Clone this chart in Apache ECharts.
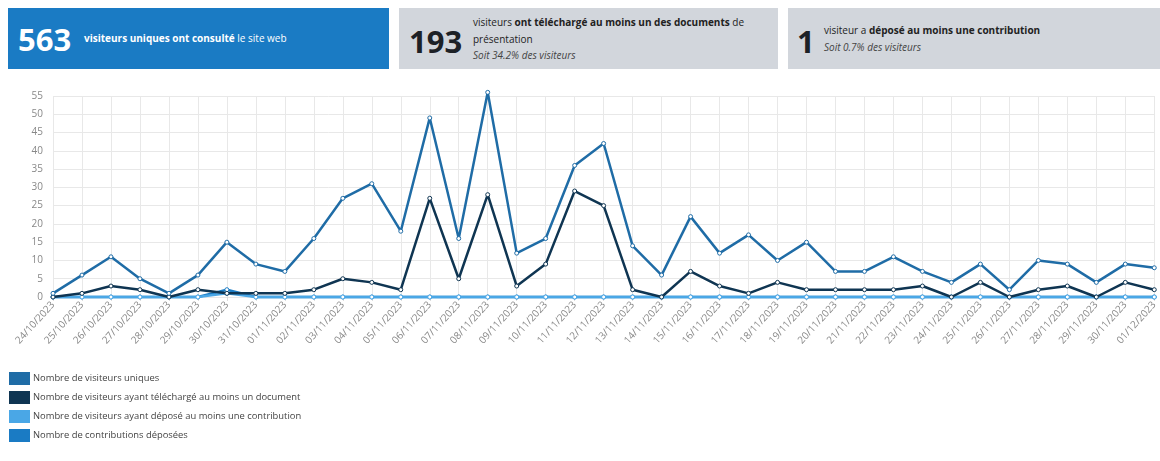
<!DOCTYPE html>
<html>
<head>
<meta charset="utf-8">
<script src="https://cdn.jsdelivr.net/npm/echarts@6/dist/echarts.min.js"></script>
<style>
  html, body { margin: 0; padding: 0; background: #fff; font-family: "Open Sans", "Noto Sans", sans-serif; }
  #wrap { position: relative; width: 1160px; height: 461px; overflow: hidden; }
  #chart { position: absolute; left: 0; top: 0; width: 1160px; height: 461px; }
  .box { position: absolute; top: 8px; height: 61px; box-sizing: border-box; z-index: 2; }
  .big { position: absolute; font-weight: 700; font-size: 31px; line-height: 31px; }
  .txt { position: absolute; font-size: 10px; line-height: 16.5px; }
  .b1 { left: 8px; width: 381px; background: #1a7bc4; color: #fff; }
  .b2 { left: 399px; width: 379px; background: #d2d6dc; color: #222; }
  .b3 { left: 788px; width: 372px; background: #d2d6dc; color: #222; }
  .it { font-style: italic; color: #444; }
</style>
</head>
<body>
<div id="wrap">
  <div id="chart"></div>
  <div class="box b1">
    <div class="big" style="left:10px; top:16px;">563</div>
    <div class="txt" style="left:76px; top:22px;"><b>visiteurs uniques ont consulté</b> le site web</div>
  </div>
  <div class="box b2">
    <div class="big" style="left:10px; top:18px; color:#1d2126;">193</div>
    <div class="txt" style="left:74px; top:6px; width:290px;">visiteurs <b>ont téléchargé au moins un des documents</b> de présentation<br><span class="it">Soit 34.2% des visiteurs</span></div>
  </div>
  <div class="box b3">
    <div class="big" style="left:9px; top:18px; color:#1d2126;">1</div>
    <div class="txt" style="left:36px; top:14px;">visiteur a <b>déposé au moins une contribution</b><br><span class="it">Soit 0.7% des visiteurs</span></div>
  </div>
</div>
<script>
const categories = [
  "24/10/2023","25/10/2023","26/10/2023","27/10/2023","28/10/2023","29/10/2023","30/10/2023","31/10/2023",
  "01/11/2023","02/11/2023","03/11/2023","04/11/2023","05/11/2023","06/11/2023","07/11/2023","08/11/2023",
  "09/11/2023","10/11/2023","11/11/2023","12/11/2023","13/11/2023","14/11/2023","15/11/2023","16/11/2023",
  "17/11/2023","18/11/2023","19/11/2023","20/11/2023","21/11/2023","22/11/2023","23/11/2023","24/11/2023",
  "25/11/2023","26/11/2023","27/11/2023","28/11/2023","29/11/2023","30/11/2023","01/12/2023"
];
const seriesNames = [
  "Nombre de visiteurs uniques",
  "Nombre de visiteurs ayant téléchargé au moins un document",
  "Nombre de visiteurs ayant déposé au moins une contribution",
  "Nombre de contributions déposées"
];
const uniqueVisitors = [1,6,11,5,1,6,15,9,7,16,27,31,18,49,16,56,12,16,36,42,14,6,22,12,17,10,15,7,7,11,7,4,9,2,10,9,4,9,8];
const downloaders   = [0,1,3,2,0,2,1,1,1,2,5,4,2,27,5,28,3,9,29,25,2,0,7,3,1,4,2,2,2,2,3,0,4,0,2,3,0,4,2];
const contributors  = [0,0,0,0,0,0,1,0,0,0,0,0,0,0,0,0,0,0,0,0,0,0,0,0,0,0,0,0,0,0,0,0,0,0,0,0,0,0,0];
const contributions = [0,0,0,0,0,0,2,0,0,0,0,0,0,0,0,0,0,0,0,0,0,0,0,0,0,0,0,0,0,0,0,0,0,0,0,0,0,0,0];
const yTicks = { min: 0, max: 55, interval: 5 };

const colors = ["#1f6ca6", "#0f3552", "#4aa7e6", "#1a7bc4"];
const chart = echarts.init(document.getElementById('chart'), null, { renderer: 'canvas' });
const mk = (name, data, color, z) => ({
  name, type: 'line', data, z, clip: false,
  symbol: 'circle', symbolSize: 4,
  itemStyle: { color: '#fff', borderColor: color, borderWidth: 1 },
  lineStyle: { color, width: 2.5 },
  emphasis: { disabled: true }, animation: false
});
chart.setOption({
  animation: false,
  color: colors,
  textStyle: { fontFamily: '"Open Sans", "Noto Sans", sans-serif' },
  grid: { left: 53, right: 2, top: 96, bottom: 164, containLabel: false },
  xAxis: {
    type: 'category', data: categories, boundaryGap: false,
    axisLine: { show: false },
    axisTick: { show: true, alignWithLabel: true, length: 4, lineStyle: { color: '#ddd' } },
    axisLabel: { rotate: 48, interval: 0, fontSize: 10, color: '#888', margin: 6 },
    splitLine: { show: true, lineStyle: { color: '#e8e8e8', width: 1 } }
  },
  yAxis: {
    type: 'value', min: yTicks.min, max: yTicks.max, interval: yTicks.interval,
    axisLine: { show: false }, axisTick: { show: false },
    axisLabel: { fontSize: 10, color: '#888', margin: 10 },
    splitLine: { lineStyle: { color: '#e8e8e8', width: 1 } }
  },
  legend: {
    orient: 'vertical', left: 4, top: 367, icon: 'rect',
    itemWidth: 19, itemHeight: 11, itemGap: 6,
    textStyle: { fontSize: 9.4, color: '#444', padding: [0, 0, 0, -1] },
    data: seriesNames.map((n, i) => ({ name: n, itemStyle: { color: colors[i] } }))
  },
  series: [
    mk(seriesNames[0], uniqueVisitors, colors[0], 4),
    mk(seriesNames[1], downloaders, colors[1], 3),
    mk(seriesNames[3], contributions, colors[3], 1),
    mk(seriesNames[2], contributors, colors[2], 2)
  ]
});
</script>
</body>
</html>
